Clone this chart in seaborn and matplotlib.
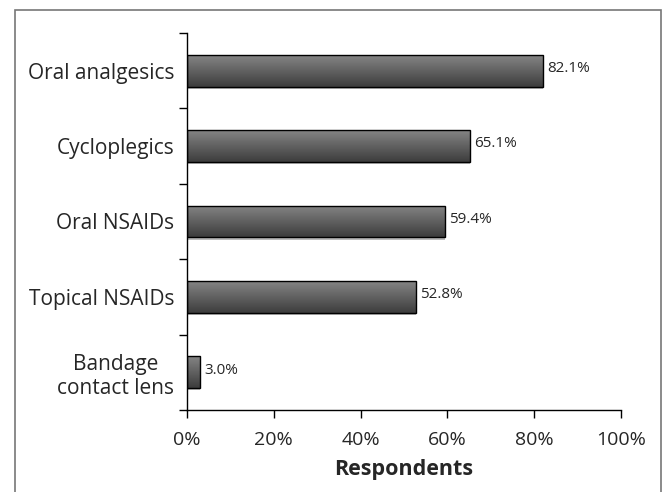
import numpy as np
import pandas as pd
import matplotlib.pyplot as plt
from matplotlib.patches import Rectangle
import seaborn as sns

treatments = ['Oral analgesics', 'Cycloplegics', 'Oral NSAIDs', 'Topical NSAIDs', 'Bandage\ncontact lens']
pct = [82.1, 65.1, 59.4, 52.8, 3.0]
xticks = [0, 20, 40, 60, 80, 100]

df = pd.DataFrame({'treatment': treatments, 'pct': pct})

sns.set_style('white')
plt.rcParams['font.family'] = ['Open Sans', 'DejaVu Sans']

fig = plt.figure(figsize=(6.64, 4.92), dpi=100)
ax = fig.add_axes([0.2816, 0.1667, 0.6536, 0.7663])

# outer frame (bottom edge runs off the image)
fig.patches.append(Rectangle((15 / 664, -0.05), 646 / 664, 1.05 - 10 / 492,
                             transform=fig.transFigure, fill=False,
                             edgecolor='#777777', linewidth=1.2))

sns.barplot(data=df, y='treatment', x='pct', orient='h', ax=ax,
            color='#606060', width=0.42, edgecolor='black', linewidth=1.0)

# gradient fill on bars (lighter top, darker bottom)
grad = np.linspace(0.52, 0.24, 64).reshape(-1, 1)
for p in ax.patches:
    x0, y0 = p.get_x(), p.get_y()
    w, h = p.get_width(), p.get_height()
    shadow = Rectangle((x0, y0 + h), w, 0.03, facecolor='#bbbbbb', edgecolor='none', zorder=1)
    ax.add_patch(shadow)
    im = ax.imshow(grad, cmap='gray', vmin=0, vmax=1, aspect='auto',
                   extent=(x0, x0 + w, y0 + h, y0), zorder=2)
    im.set_clip_path(p)
    p.set_facecolor('none')
    p.set_zorder(3)

for i, v in enumerate(pct):
    ax.text(v + 1.0, i - 0.03, f'{v:.1f}%', va='center', ha='left', fontsize=11)

ax.set_xlim(0, 100)
ax.set_ylim(4.5, -0.5)
ax.set_xticks(xticks)
ax.set_xticklabels([f'{t}%' for t in xticks], fontsize=14)
ax.set_yticks(np.arange(len(treatments)))
ax.set_yticklabels(treatments, fontsize=15, multialignment='center')
ax.tick_params(axis='y', which='major', left=False, length=0, pad=9)
ax.set_yticks(np.arange(-0.5, len(treatments), 1), minor=True)
ax.tick_params(axis='y', which='minor', left=True, length=6, width=1, color='black', direction='out')
ax.tick_params(axis='x', bottom=True, length=6, width=1, color='black', direction='out', pad=9)
ax.set_xlabel('Respondents', fontsize=15.5, fontweight='bold', labelpad=7)
ax.set_ylabel('')
for s in ['top', 'right']:
    ax.spines[s].set_visible(False)
for s in ['left', 'bottom']:
    ax.spines[s].set_color('black')
    ax.spines[s].set_linewidth(1.0)

fig.savefig('out.png', dpi=100)
